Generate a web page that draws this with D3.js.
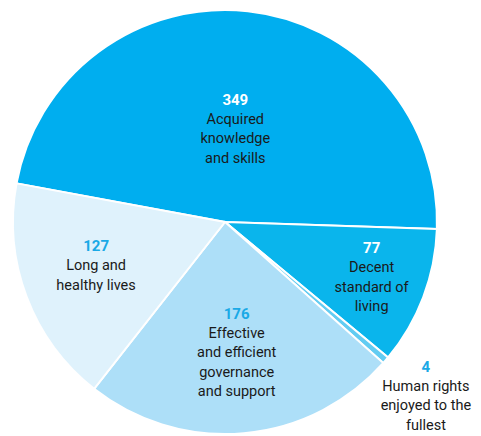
<!DOCTYPE html>
<html>
<head>
<meta charset="utf-8">
<script src="https://cdn.jsdelivr.net/npm/d3@7"></script>
<style>
  body { margin: 0; background: #fff; }
  text { font-family: Roboto, sans-serif; }
</style>
</head>
<body>
<div id="chart"></div>
<script>
const values = [349, 77, 4, 176, 127];
const labels = [
  ['Acquired', 'knowledge', 'and skills'],
  ['Decent', 'standard of', 'living'],
  ['Human rights', 'enjoyed to the', 'fullest'],
  ['Effective', 'and efficient', 'governance', 'and support'],
  ['Long and', 'healthy lives'],
];

const fills = ['#00aeef', '#0ab5ec', '#62ccf2', '#addff8', '#dff2fc'];
const numColors = ['#ffffff', '#ffffff', '#1aa9e6', '#1aa9e6', '#1aa9e6'];
// label placement: share of the radius, plus a small vertical nudge
const labelR = [0.45, 0.74, 1.25, 0.62, 0.65];
const labelDy = [2, 0, 1, 0, -5];

const size = { width: 481, height: 436 };
const cx = 225;
const cy = 222;
const radius = 212;

const svg = d3.select('#chart').append('svg')
  .attr('width', size.width)
  .attr('height', size.height);

const g = svg.append('g').attr('transform', `translate(${cx},${cy})`);

const start = -79.5 * Math.PI / 180;
const pie = d3.pie().sort(null).value((d) => d)
  .startAngle(start).endAngle(start + 2 * Math.PI);

const arcs = pie(values);
const arc = d3.arc().innerRadius(0).outerRadius(radius);

g.selectAll('path')
  .data(arcs)
  .join('path')
  .attr('d', arc)
  .attr('fill', (d, i) => fills[i])
  .attr('stroke', '#fff')
  .attr('stroke-width', 2);

const lineH = 19.5;

const lab = g.selectAll('g.lab')
  .data(arcs)
  .join('g')
  .attr('class', 'lab')
  .attr('transform', (d, i) => {
    const c = d3.arc().innerRadius(radius * labelR[i]).outerRadius(radius * labelR[i]).centroid(d);
    return `translate(${c[0]},${c[1] + labelDy[i]})`;
  });

lab.each(function (d, i) {
  const el = d3.select(this);
  const n = labels[i].length + 1;
  const top = -((n - 1) * lineH) / 2;
  el.append('text')
    .attr('text-anchor', 'middle')
    .attr('dominant-baseline', 'central')
    .attr('y', top)
    .attr('fill', numColors[i])
    .attr('font-weight', 'bold')
    .attr('font-size', 15)
    .text(values[i]);
  labels[i].forEach((t, j) => {
    el.append('text')
      .attr('text-anchor', 'middle')
      .attr('dominant-baseline', 'central')
      .attr('y', top + (j + 1) * lineH)
      .attr('fill', '#1a1a1a')
      .attr('font-size', 14.5)
      .text(t);
  });
});
</script>
</body>
</html>
